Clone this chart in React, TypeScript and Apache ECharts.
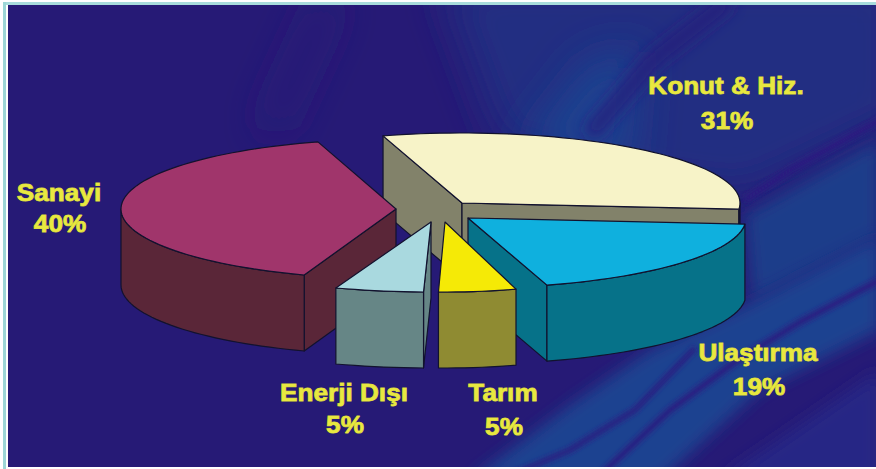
import React, { useEffect, useRef } from "react";
import * as echarts from "echarts";

// Energy consumption shares by sector
const sectors = ["Konut & Hiz.", "Ulaştırma", "Tarım", "Enerji Dışı", "Sanayi"];
const shares = [31, 19, 5, 5, 40];

// Painter's order for the exploded slices: back to front
const paintOrder = [0, 4, 1, 3, 2];

// Slice placement: apex of each exploded wedge and its radius on the ellipse
const apexX = [462, 468, 445, 431, 396];
const apexY = [203, 218, 222, 222, 209];
const radiusX = [278, 278, 250, 285, 275];
const radiusY = 70;
const depth = 76;
const startAngle = -16.5;

const topColors = ["#f7f3c8", "#0fb0de", "#f5ea06", "#a9d9df", "#a0356b"];
const wallColors = ["#82826a", "#067289", "#8f8b32", "#668686", "#5a2638"];
const edgeColor = "#12122e";

// Label anchors: name line and percentage line
const labelX = [726, 758, 503, 344, 59];
const nameY = [85, 352, 392, 392, 192];
const shareY = [120, 386, 426, 424, 223];
const labelColor = "#e8e840";

const W = 876;
const H = 469;

const blur = (id: string, amount: number) =>
  `<filter id="${id}" filterUnits="userSpaceOnUse" x="-100" y="-100" width="1100" height="700"><feGaussianBlur stdDeviation="${amount}"/></filter>`;

// Slide backdrop with soft diagonal light bands
const backdrop = `<svg xmlns="http://www.w3.org/2000/svg" width="${W}" height="${H}">
<defs>
${blur("a", 20)}${blur("b", 8)}${blur("c", 2.5)}
<clipPath id="f"><rect x="8" y="5" width="868" height="462"/></clipPath>
</defs>
<rect width="${W}" height="${H}" fill="#ffffff"/>
<rect x="3" y="2" width="873" height="3" fill="#a8dcdc"/>
<rect x="3" y="2" width="3" height="467" fill="#9cd6d6"/>
<g clip-path="url(#f)">
<rect x="8" y="5" width="868" height="462" fill="#261a76"/>
<polygon points="440,-20 900,-20 900,120 745,195 640,180 560,160 500,140" fill="#232f82" filter="url(#a)"/>
<polygon points="520,150 590,60 640,50 630,170" fill="#1a4390" filter="url(#a)"/>
<polyline points="589,135 653,60 730,0" fill="none" stroke="#271f7c" stroke-width="14" filter="url(#b)"/>
<polyline points="270,130 330,0" fill="none" stroke="#2a1a78" stroke-width="20" filter="url(#a)"/>
<polygon points="745,215 880,140 880,235 752,300" fill="#1f3e8a" filter="url(#b)"/>
<polygon points="470,480 570,405 650,350 745,305 880,235 880,330 760,390 660,480" fill="#1c4290" filter="url(#b)"/>
<polygon points="720,480 880,370 880,480" fill="#262585" filter="url(#b)"/>
<polyline points="745,200 790,170 880,120" fill="none" stroke="#2a1a80" stroke-width="7" filter="url(#c)"/>
<polyline points="595,480 670,410 735,362 800,322 880,280" fill="none" stroke="#2a1a80" stroke-width="6" filter="url(#c)"/>
<polyline points="500,480 570,450 635,410 695,348" fill="none" stroke="#2a1a80" stroke-width="5" filter="url(#c)"/>
</g>
</svg>`;

const rad = (deg: number) => (deg * Math.PI) / 180;

// Outer point of a wedge for an angle measured clockwise from twelve o'clock
const rim = (i: number, deg: number): number[] => [
  apexX[i] + radiusX[i] * Math.sin(rad(deg)),
  apexY[i] - radiusY * Math.cos(rad(deg)),
];

const arcPoints = (i: number, from: number, to: number): number[][] => {
  const steps = Math.max(2, Math.ceil(Math.abs(to - from) / 2));
  const pts: number[][] = [];
  for (let s = 0; s <= steps; s++) pts.push(rim(i, from + ((to - from) * s) / steps));
  return pts;
};

const sliceAngles = (i: number): number[] => {
  const total = shares.reduce((a, b) => a + b, 0);
  const before = shares.slice(0, i).reduce((a, b) => a + b, 0);
  const from = startAngle + (before / total) * 360;
  return [from, from + (shares[i] / total) * 360];
};

const face = (points: number[][], fill: string) => ({
  type: "polygon",
  shape: { points },
  silent: true,
  style: { fill, stroke: edgeColor, lineWidth: 1.2, lineJoin: "round" },
});

const caption = (text: string, x: number, y: number) => ({
  type: "text",
  x,
  y,
  scaleX: 1.09,
  silent: true,
  style: {
    text,
    fill: labelColor,
    stroke: "#d4d436",
    lineWidth: 0.9,
    font: 'bold 24px "Liberation Sans", Arial, sans-serif',
    textAlign: "center",
    textVerticalAlign: "middle",
  },
});

// Builds one extruded wedge: visible side walls, outer wall, top face and its label
const renderSlice = (_params: any, api: any) => {
  const i = api.value(0) as number;
  const [from, to] = sliceAngles(i);
  const apex = [apexX[i], apexY[i]];
  const drop = (p: number[]) => [p[0], p[1] + depth];
  const children: any[] = [];

  const wall = (p: number[]) => face([apex, p, drop(p), drop(apex)], wallColors[i]);
  if (Math.sin(rad(from)) < 0) children.push(wall(rim(i, from)));
  if (Math.sin(rad(to)) > 0) children.push(wall(rim(i, to)));

  const a = Math.max(from, 90);
  const b = Math.min(to, 270);
  if (b > a) {
    const front = arcPoints(i, a, b);
    children.push(face([...front, ...front.map(drop).reverse()], wallColors[i]));
  }

  children.push(face([apex, ...arcPoints(i, from, to)], topColors[i]));
  children.push(caption(sectors[i], labelX[i], nameY[i]));
  children.push(caption(`${shares[i]}%`, labelX[i] + 1, shareY[i]));
  return { type: "group", children };
};

export default function App() {
  const ref = useRef<HTMLDivElement>(null);

  useEffect(() => {
    document.body.style.margin = "0";
    const chart = echarts.init(ref.current!, null, { renderer: "svg" });
    chart.setOption({
      animation: false,
      series: [
        {
          type: "custom",
          coordinateSystem: "none",
          silent: true,
          clip: false,
          renderItem: renderSlice,
          data: paintOrder.map((i) => [i]),
        },
      ],
    });
    return () => chart.dispose();
  }, []);

  return (
    <div
      ref={ref}
      style={{
        width: W,
        height: H,
        backgroundImage: `url("data:image/svg+xml,${encodeURIComponent(backdrop)}")`,
        backgroundRepeat: "no-repeat",
      }}
    />
  );
}
